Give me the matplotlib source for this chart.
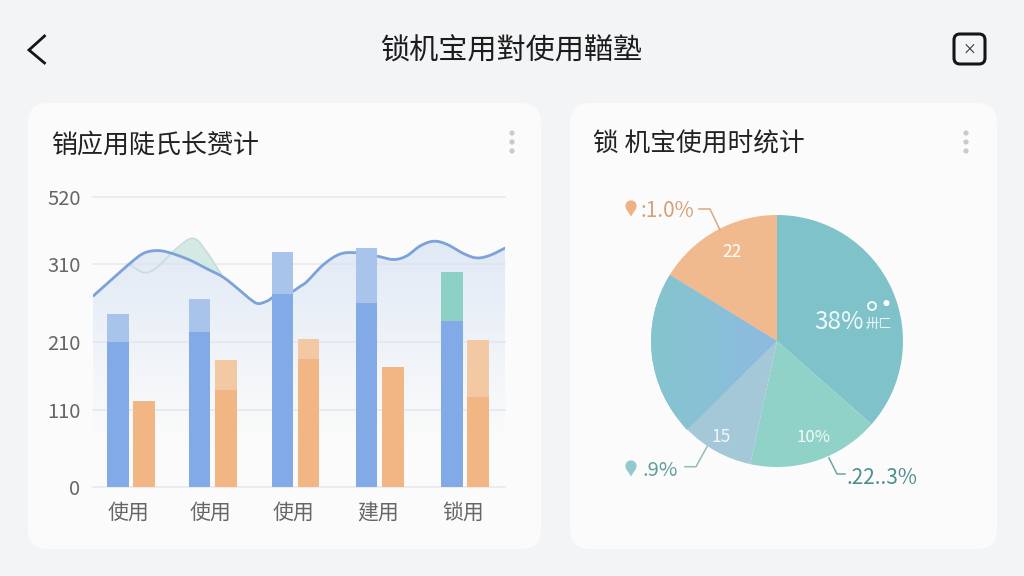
import numpy as np
import matplotlib
matplotlib.use("Agg")
import matplotlib.pyplot as plt
from matplotlib.patches import FancyBboxPatch, Circle, Polygon
from matplotlib.colors import to_rgb

plt.rcParams['font.family'] = ['Noto Sans CJK SC', 'DejaVu Sans']

# ---- data ----
main_title = "锁机宝用對使用鞧塾"
bar_title = "销应用陡氏长赟计"
pie_title = "锁 机宝使用时统计"
categories = ["使用", "使用", "使用", "建用", "锁用"]
group_x = [0.0, 0.98, 1.97, 2.98, 4.0]
y_ticks = [0, 110, 210, 310, 520]
y_labels = ["0", "110", "210", "310", "520"]
blue_base = [209, 222, 271, 260, 237]
blue_top = [246, 265, 347, 359, 300]
orange_base = [123, 139, 185, 173, 129]
orange_top = [123, 183, 213, 173, 212]
line_x = [-0.451, -0.251, -0.012, 0.148, 0.307, 0.467, 0.707, 0.907, 1.105, 1.305,
          1.425, 1.525, 1.644, 1.704, 1.904, 2.024, 2.104, 2.303, 2.503, 2.703, 2.942, 3.142,
          3.301, 3.461, 3.621, 3.780, 3.98, 4.14, 4.299, 4.499]
line_y = [269, 288, 312, 343, 352, 345, 322, 304, 293, 276,
          265, 259, 263, 267, 273, 281, 287, 309, 341, 345, 335, 324,
          335, 366, 381, 372, 343, 329, 337, 362]
bump_x = [-0.012, 0.156, 0.315, 0.547, 0.747, 0.906, 1.086]
bump_y = [309, 299, 306, 359, 390, 348, 296]
pie_values = [36.5, 16.9, 9.2, 21.2, 16.2]
pie_colors = ["#80c2ca", "#90d2c7", "#a4c8d8", "#88bdd8", "#f0ba8e"]

# ---- figure ----
W, H = 1024, 576
fig = plt.figure(figsize=(W / 100, H / 100), dpi=100, facecolor="#f3f4f6")


def axes_px(left, top, right, bottom, **kw):
    return fig.add_axes([left / W, 1 - bottom / H, (right - left) / W, (bottom - top) / H], **kw)


bg = axes_px(0, 0, W, H, zorder=0)
bg.set_xlim(0, W)
bg.set_ylim(H, 0)
bg.axis("off")
for (l, t, r, b) in [(28, 103, 541, 549), (570, 103, 997, 549)]:
    bg.add_patch(FancyBboxPatch((l, t), r - l, b - t, boxstyle="round,pad=0,rounding_size=20",
                                fc="#fbfbfb", ec="none"))

# ---- bar chart ----
ax = axes_px(93, 196.7, 505, 486.7, zorder=1)
ax.patch.set_alpha(0)
tick_pos = [0, 77, 145, 222.7, 290]


def fwd(v):
    return np.interp(v, y_ticks, tick_pos)


def inv(p):
    return np.interp(p, tick_pos, y_ticks)


ax.set_yscale("function", functions=(fwd, inv))
ax.set_xlim(-0.455, 4.48)
ax.set_ylim(0, 520)


def smooth(xs, ys, n=14):
    xs = np.asarray(xs, float)
    ys = fwd(np.asarray(ys, float))
    P = np.column_stack([xs, ys])
    P = np.vstack([2 * P[0] - P[1], P, 2 * P[-1] - P[-2]])
    out = []
    for i in range(1, len(P) - 2):
        t = np.linspace(0, 1, n, endpoint=False)[:, None]
        p0, p1, p2, p3 = P[i - 1], P[i], P[i + 1], P[i + 2]
        out.append(0.5 * (2 * p1 + (p2 - p0) * t + (2 * p0 - 5 * p1 + 4 * p2 - p3) * t ** 2
                          + (3 * p1 - p0 - 3 * p2 + p3) * t ** 3))
    out.append(P[-2][None, :])
    out = np.vstack(out)
    return out[:, 0], inv(out[:, 1])


for v in y_ticks:
    ax.axhline(v, color="#e9eaed", lw=1.2, zorder=1, clip_on=False)

lx, ly = smooth(line_x, line_y)

# gradient area under line
gy = np.linspace(60, 400, 120)
gx = np.array([line_x[0], line_x[-1]])
top_c = np.array(to_rgb("#d6e2f3"))
rgba = np.zeros((len(gy) - 1, 1, 4))
rgba[:, 0, :3] = top_c
rgba[:, 0, 3] = np.clip((fwd(gy[:-1]) - fwd(60)) / (fwd(400) - fwd(60)), 0, 1) ** 1.1 * 0.75
mesh = ax.pcolormesh(gx, gy, rgba, zorder=1.5, shading="flat", antialiased=False, linewidth=0)
clip = Polygon(np.column_stack([np.r_[lx, lx[-1], lx[0]], np.r_[ly, 1, 1]]), closed=True,
               transform=ax.transData, fc="none", ec="none")
ax.add_patch(clip)
mesh.set_clip_path(clip)

# pale green bump
bx, by = smooth(bump_x, bump_y)
ly_on_b = np.interp(bx, lx, ly)
ax.fill_between(bx, ly_on_b, by, where=by >= ly_on_b, color="#d2e7e3", alpha=0.95, lw=0, zorder=1.8,
                interpolate=True)
ax.plot(bx, by, color="#c4ded9", lw=1.2, zorder=1.9)
ax.plot(lx, ly, color="#7ba3da", lw=2.0, zorder=2.0, solid_capstyle="round")

bw = 0.257
off = 0.157
gx_arr = np.asarray(group_x)
ax.bar(gx_arr - off, blue_base, width=bw, color="#82aae6", zorder=3)
ax.bar(gx_arr[:4] - off, np.subtract(blue_top, blue_base)[:4], bottom=blue_base[:4], width=bw,
       color="#a8c4ea", zorder=3)
ax.bar(gx_arr[4:] - off, np.subtract(blue_top, blue_base)[4:], bottom=blue_base[4:], width=bw,
       color="#8dd0c6", zorder=3)
ax.bar(gx_arr + off, orange_base, width=bw, color="#f2b684", zorder=3)
ax.bar(gx_arr + off, np.subtract(orange_top, orange_base), bottom=orange_base, width=bw,
       color="#f3c9a3", zorder=3)

for s in ax.spines.values():
    s.set_visible(False)
ax.set_yticks(y_ticks, y_labels, minor=False)
ax.minorticks_off()
ax.set_xticks(gx_arr - 0.025, categories)
ax.tick_params(axis="y", length=0, pad=9, labelsize=14.5, labelcolor="#666666")
ax.tick_params(axis="x", length=0, pad=11, labelsize=15, labelcolor="#666666")

# ---- pie ----
pie_r = 126
cx, cy = 777, 341
pa = axes_px(cx - pie_r, cy - pie_r, cx + pie_r, cy + pie_r, zorder=1)
wedges, _ = pa.pie(pie_values, colors=pie_colors, startangle=90, counterclock=False, radius=1,
                   wedgeprops=dict(lw=0))
pa.set_xlim(-1, 1)
pa.set_ylim(-1, 1)
pa.set_aspect("equal")

# colour drift inside the blue slice
mx = np.linspace(-1, 0.1, 80)
my = np.linspace(-1, 1, 3)
c1, c2 = np.array(to_rgb("#84c4ce")), np.array(to_rgb("#90b8e4"))
grad = np.zeros((2, 79, 3))
f = (mx[:-1] - mx[0]) / (mx[-1] - mx[0])
grad[:, :, :] = c1 + (c2 - c1) * f[None, :, None] ** 1.2
m = pa.pcolormesh(mx, my, grad, shading="flat", antialiased=False, zorder=2)
m.set_clip_path(wedges[3])

# ---- overlay ----
ov = axes_px(0, 0, W, H, zorder=5)
ov.set_xlim(0, W)
ov.set_ylim(H, 0)
ov.axis("off")
ov.patch.set_alpha(0)

ov.text(511, 52, main_title, ha="center", va="center", fontsize=21, color="#1c1c1c")
ov.text(51, 145, bar_title, ha="left", va="center", fontsize=18.7, color="#222222")
ov.text(593, 145, pie_title, ha="left", va="center", fontsize=18.5, color="#222222")

# back chevron
ov.plot([44.5, 29, 44.5], [36, 50, 63], color="#151515", lw=2.0, solid_joinstyle="miter")
# close icon
ov.add_patch(FancyBboxPatch((954, 34), 31, 30, boxstyle="round,pad=0,rounding_size=6",
                            fc="none", ec="#151515", lw=2.2))
ov.text(969.5, 49.5, "×", ha="center", va="center", fontsize=10, color="#222222")
# kebab dots
for dx in (512, 966):
    for dy in (133, 142, 151):
        ov.add_patch(Circle((dx, dy), 2.6, fc="#c8cacb", ec="none"))

# pie labels
ov.text(732, 252, "22", ha="center", va="center", fontsize=12.5, color="white")
ov.text(721, 436.5, "15", ha="center", va="center", fontsize=12.5, color="#f2f7fa")
ov.text(813, 438, "10%", ha="center", va="center", fontsize=12, color="#f4fbf9")
ov.text(814, 322, "38%", ha="left", va="center", fontsize=17.5, color="#eef9f8")
ov.text(866, 324, "卅匚", ha="left", va="center", fontsize=9.5, color="#eef9f8")
ov.add_patch(Circle((872, 306), 4, fc="none", ec="#eef9f8", lw=1.4))
ov.add_patch(Circle((886.5, 303), 3, fc="white", ec="none"))

ov.text(640, 211, ":1.0%", ha="left", va="center", fontsize=15, color="#d9a077")
ov.text(642, 471, ".9%", ha="left", va="center", fontsize=14.5, color="#5f9ea0")
ov.text(846, 478, ".22..3%", ha="left", va="center", fontsize=15, color="#4f8f90")
ov.plot([699, 710, 720], [209, 209, 230], color="#dba881", lw=1.1)
ov.plot([685, 696, 707], [466.7, 466.7, 446.7], color="#8fbcbc", lw=1.1)
ov.plot([829, 837, 845], [458, 474, 474], color="#6fa5a5", lw=1.1)


def pin(x, y, col):
    ov.add_patch(Circle((x, y - 1.5), 5.6, fc=col, ec="none"))
    ov.add_patch(Polygon([(x - 5, y + 1), (x + 5, y + 1), (x, y + 9)], closed=True, fc=col, ec="none"))


pin(631, 207.5, "#eeb183")
pin(631, 467.5, "#93c8cc")

fig.savefig("out.png", dpi=100, facecolor=fig.get_facecolor())
